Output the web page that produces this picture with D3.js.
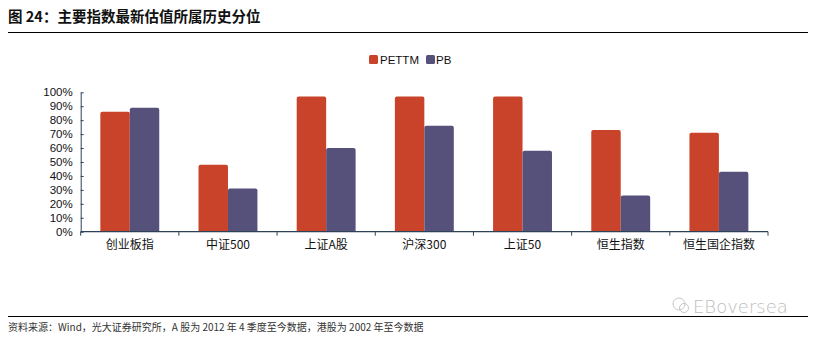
<!DOCTYPE html>
<html><head><meta charset="utf-8">
<script src="https://cdn.jsdelivr.net/npm/d3@7"></script>
<style>
body{margin:0;background:#fff;}
svg{display:block;}
text{font-family:"Liberation Sans",Arial,"Noto Sans CJK SC",sans-serif;}
.cjk{font-family:"Noto Sans CJK SC",sans-serif;}
</style></head>
<body>
<svg id="c" width="815" height="340"></svg>
<script>
const categories = ["创业板指","中证500","上证A股","沪深300","上证50","恒生指数","恒生国企指数"];
const seriesNames = ["PETTM","PB"];
const pettm = [0.86, 0.48, 0.97, 0.97, 0.97, 0.73, 0.71];
const pb = [0.89, 0.31, 0.60, 0.76, 0.58, 0.26, 0.43];
const yTicks = [0,0.1,0.2,0.3,0.4,0.5,0.6,0.7,0.8,0.9,1.0];
const colors = ["#C9432A","#56517A"];
const title = "图 24：主要指数最新估值所属历史分位";
const source = "资料来源：Wind，光大证券研究所，A 股为 2012 年 4 季度至今数据，港股为 2002 年至今数据";

(function(){
const svg = d3.select("#c");
const axisColor = "#2E4257";

svg.append("text").attr("class","cjk").attr("x",8).attr("y",22)
  .attr("font-size",14.5).attr("font-weight","bold").attr("fill","#111").text(title);
svg.append("line").attr("x1",8).attr("x2",808).attr("y1",32.5).attr("y2",32.5)
  .attr("stroke","#000").attr("stroke-width",1.2);

const pLeft=80.7, pRight=768, pTop=92.3, pBottom=231.7;
const x = d3.scaleBand().domain(categories).range([pLeft,pRight]).paddingInner(0.4).paddingOuter(0.2);
const xs = d3.scaleBand().domain(seriesNames).range([0,x.bandwidth()]);
const y = d3.scaleLinear().domain([0,1]).range([pBottom,pTop]);

const data = categories.map((c,i)=>({c, vals:[pettm[i],pb[i]]}));
const g = svg.append("g");
data.forEach(d=>{
  d.vals.forEach((v,j)=>{
    const x0 = x(d.c)+xs(seriesNames[j]);
    const w = xs.bandwidth();
    const y0 = y(v);
    const r = 2;
    g.append("path").attr("fill",colors[j])
      .attr("d",`M${x0},${pBottom}V${y0+r}Q${x0},${y0} ${x0+r},${y0}H${x0+w-r}Q${x0+w},${y0} ${x0+w},${y0+r}V${pBottom}Z`);
  });
});

const yAxis = d3.axisLeft(y).tickValues(yTicks).tickFormat(d3.format(".0%")).tickSizeInner(-3).tickSizeOuter(0).tickPadding(8);
const ya = svg.append("g").attr("transform",`translate(${pLeft},0)`).call(yAxis);
ya.select(".domain").attr("stroke",axisColor);
ya.selectAll(".tick line").attr("stroke",axisColor);
ya.selectAll("text").attr("font-size",11.5).attr("fill","#111")
  .style("font-family","'Liberation Sans',Arial,sans-serif");

const xa = svg.append("g").attr("transform",`translate(0,${pBottom})`);
xa.append("line").attr("x1",pLeft).attr("x2",pRight).attr("y1",0).attr("y2",0).attr("stroke",axisColor).attr("stroke-width",1.2);
const bounds = d3.range(categories.length+1).map(i=> pLeft + i*(pRight-pLeft)/categories.length);
xa.selectAll("line.tk").data(bounds).join("line").attr("class","tk")
  .attr("x1",d=>d).attr("x2",d=>d).attr("y1",0).attr("y2",4).attr("stroke",axisColor);
xa.selectAll("text").data(categories).join("text").attr("class","cjk")
  .attr("x",d=>x(d)+x.bandwidth()/2).attr("y",17).attr("text-anchor","middle")
  .attr("font-size",12).attr("fill","#111").text(d=>d);

const lg = svg.append("g");
const legendPos = [[369,380],[426,436]];
seriesNames.forEach((n,j)=>{
  lg.append("rect").attr("x",legendPos[j][0]).attr("y",55).attr("width",9).attr("height",9).attr("rx",1.5).attr("fill",colors[j]);
  lg.append("text").attr("x",legendPos[j][1]).attr("y",64).attr("font-size",11.5).attr("fill","#111").text(n);
});

const wm = svg.append("g").attr("opacity",0.55);
wm.append("circle").attr("cx",679).attr("cy",304).attr("r",6).attr("fill","none").attr("stroke","#999").attr("stroke-width",1);
wm.append("circle").attr("cx",684).attr("cy",308).attr("r",4.5).attr("fill","none").attr("stroke","#999").attr("stroke-width",1);
wm.append("text").attr("x",693).attr("y",313).attr("font-size",18).attr("fill","#888")
  .style("font-family","'DejaVu Sans',sans-serif").style("font-weight","200").text("EBoversea");

svg.append("line").attr("x1",8).attr("x2",808).attr("y1",316.5).attr("y2",316.5).attr("stroke","#000").attr("stroke-width",1.2);
svg.append("text").attr("class","cjk").attr("x",8).attr("y",331).attr("font-size",10).attr("fill","#333").text(source);
})();
</script>
</body></html>
